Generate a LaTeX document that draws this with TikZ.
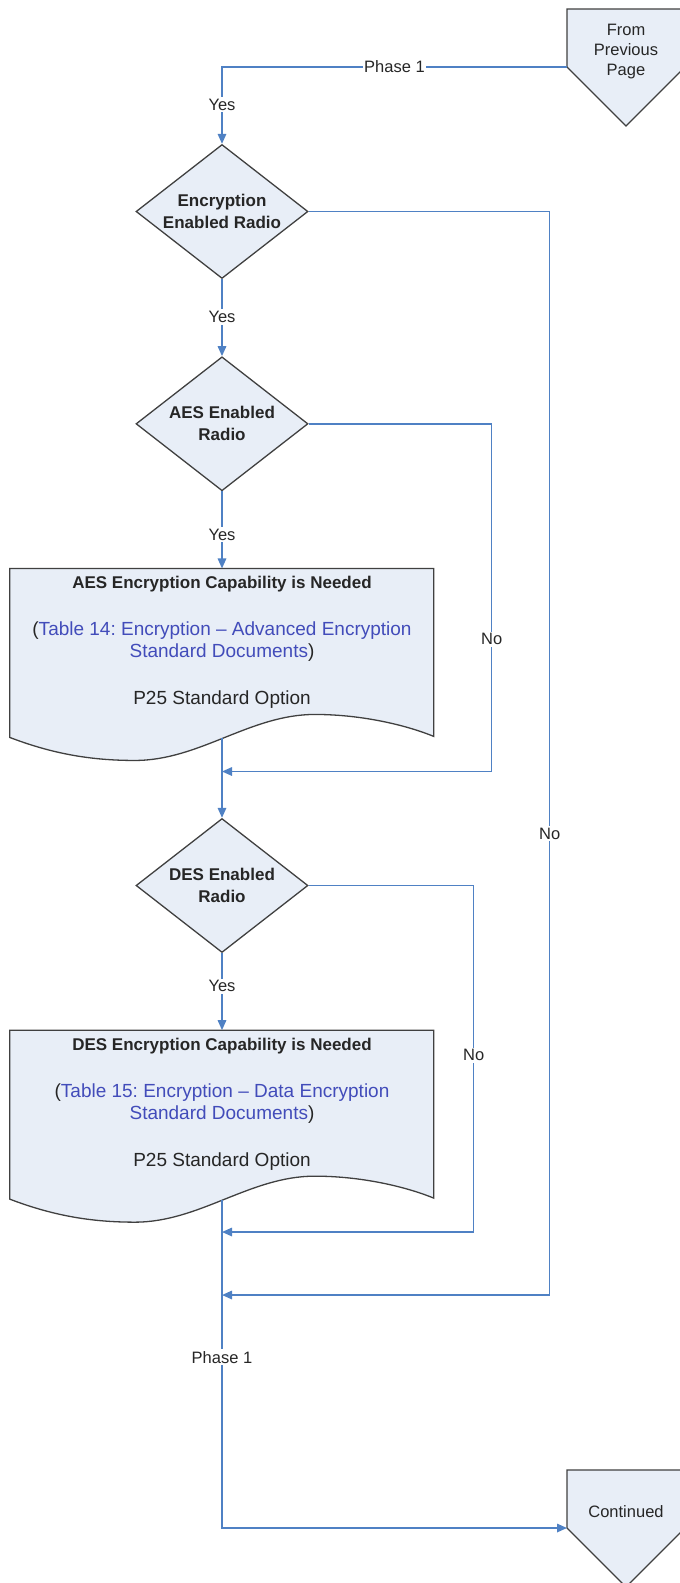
\documentclass[tikz,border=0pt]{standalone}
\usepackage{fontspec}
\setmainfont{Liberation Sans}
\usepackage{xcolor}
\usetikzlibrary{positioning, shapes.geometric, arrows.meta, backgrounds}
\frenchspacing

\definecolor{fondo}{RGB}{232,238,247}
\definecolor{borde}{RGB}{64,64,64}
\definecolor{azul}{RGB}{79,129,196}
\definecolor{enlace}{RGB}{66,76,186}

\begin{document}
\begin{tikzpicture}[x=1pt, y=1pt, node distance=77pt,
		every node/.style={text=black!85},
		rombo/.style={diamond, draw=borde, fill=fondo, line width=1.3pt, minimum width=172pt, minimum height=134pt, inner sep=0pt, shape aspect=1.28, align=center, font=\fontsize{17}{22}\selectfont\bfseries},
		documento/.style={rectangle, minimum width=424pt, minimum height=169pt, inner ysep=0pt, align=center, text depth=25pt, font=\fontsize{19}{22}\selectfont},
		conector/.style={align=center, font=\fontsize{16.5}{20}\selectfont},
		etiqueta/.style={fill=white, inner xsep=1pt, inner ysep=2pt, font=\fontsize{16.5}{20}\selectfont},
		contorno/.style={draw=borde, fill=fondo, line width=1.3pt},
		flecha/.style={draw=azul, line width=1.6pt, -{Triangle[length=10pt, width=8.5pt]}}
		]
		\useasboundingbox (0,0) rectangle (680,-1583);
		
		% conectores de pagina
		\draw[contorno] (567,-9) -- (685,-9) -- (685,-67) -- (626,-126) -- (567,-67) -- cycle;
		\node[conector] (prev) at (626,-52) {From\\Previous\\Page};
		\coordinate (salida) at (567,-67);
		
		\draw[contorno] (567,-1470) -- (685,-1470) -- (685,-1528) -- (626,-1587) -- (567,-1528) -- cycle;
		\node[conector] (cont) at (626,-1512) {Continued};
		\coordinate (entrada) at (567,-1528);
		
		% Nodos principales
		\node[rombo] (cifr) at (222,-211.5) {Encryption\\Enabled Radio};
		\node[rombo, below=77pt of cifr] (aes) {AES Enabled\\Radio};
		\node[documento, below=77pt of aes] (aesdoc) {{\fontsize{17}{22}\selectfont\bfseries AES Encryption Capability is Needed}\\[25pt]
			(\textcolor{enlace}{Table 14: Encryption – Advanced Encryption}\\
			\textcolor{enlace}{Standard Documents})\\[25pt]
			P25 Standard Option};
		\node[rombo, below=80pt of aesdoc] (des) {DES Enabled\\Radio};
		\node[documento, below=77pt of des] (desdoc) {{\fontsize{17}{22}\selectfont\bfseries DES Encryption Capability is Needed}\\[25pt]
			(\textcolor{enlace}{Table 15: Encryption – Data Encryption}\\
			\textcolor{enlace}{Standard Documents})\\[25pt]
			P25 Standard Option};
		
		% contorno de documentos
		\begin{pgfonlayer}{background}
			\draw[contorno, shift={(aesdoc.north west)}] (0,0) -- (424,0) -- (424,-168) .. controls (400,-158) and (355,-146) .. (305,-146) .. controls (240,-146) and (190,-192) .. (125,-192) .. controls (80,-192) and (42,-185) .. (0,-169) -- cycle;
			\draw[contorno, shift={(desdoc.north west)}] (0,0) -- (424,0) -- (424,-168) .. controls (400,-158) and (355,-146) .. (305,-146) .. controls (240,-146) and (190,-192) .. (125,-192) .. controls (80,-192) and (42,-185) .. (0,-169) -- cycle;
		\end{pgfonlayer}
		
		% uniones en la linea principal
		\coordinate (union1) at (222,-771.5);
		\coordinate (union2) at (222,-1232);
		\coordinate (union3) at (222,-1295);
		
		% flechas principales
		\draw[flecha] (salida) -| node[etiqueta, pos=0.25]{Phase 1} node[etiqueta, pos=0.745]{Yes} (cifr);
		\draw[flecha] (cifr) -- node[etiqueta, pos=0.49]{Yes} (aes);
		\draw[flecha] (aes) -- node[etiqueta, pos=0.56]{Yes} (aesdoc);
		\draw[flecha] (aesdoc) -- (des);
		\draw[flecha] (des) -- node[etiqueta, pos=0.43]{Yes} (desdoc);
		\draw[flecha] (desdoc) |- node[etiqueta, pos=0.24]{Phase 1} (entrada);
		
		% flechas de "No"
		\draw[flecha] (cifr.east) -- ++(241,0) |- node[etiqueta, pos=0.287]{No} (union3);
		\draw[flecha] (aes.east) -- ++(183,0) |- node[etiqueta, pos=0.31]{No} (union1);
		\draw[flecha] (des.east) -- ++(165,0) |- node[etiqueta, pos=0.245]{No} (union2);
		
	\end{tikzpicture}
\end{document}
